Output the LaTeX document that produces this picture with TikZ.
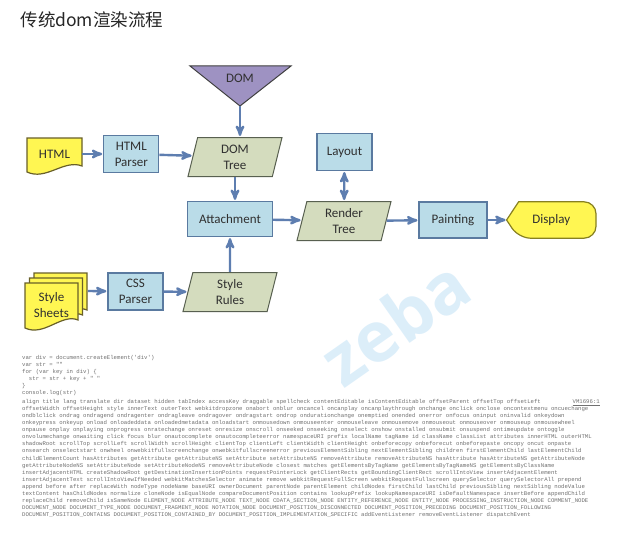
\documentclass[tikz,border=0pt]{standalone}
\usepackage{fontspec}
\setmainfont{Carlito}
\setmonofont{Liberation Mono}
\newfontfamily\cjk{Noto Sans CJK SC}
\newfontfamily\markfont{Open Sans}
\usepackage{tikz}
\usetikzlibrary{positioning}
\usetikzlibrary{arrows,shapes.geometric,backgrounds}

\definecolor{boxblue}{RGB}{186,220,232}
\definecolor{boxedge}{RGB}{90,122,160}
\definecolor{treegreen}{RGB}{212,220,190}
\definecolor{treeedge}{RGB}{88,96,80}
\definecolor{docyellow}{RGB}{255,246,82}
\definecolor{docedge}{RGB}{105,96,40}
\definecolor{domviolet}{RGB}{158,146,194}
\definecolor{flowblue}{RGB}{94,126,176}
\definecolor{labelgray}{RGB}{48,48,48}
\definecolor{codegray}{RGB}{112,112,112}
\definecolor{markblue}{RGB}{140,200,238}

\tikzset{
  process/.style={draw=boxedge, fill=boxblue, line width=1.2pt, minimum width=55pt,
    minimum height=37pt, inner sep=1pt, align=center},
  datatree/.style={trapezium, trapezium left angle=70, trapezium right angle=110,
    trapezium stretches body, draw=treeedge, fill=treegreen, line width=1pt,
    minimum width=94pt, minimum height=39pt, inner sep=1pt, align=center},
  docsheet/.style={draw=docedge, fill=docyellow, line width=1.2pt},
  outputshape/.style={draw=docedge!80!yellow, fill=docyellow, line width=1.2pt},
  flow/.style={draw=flowblue, line width=2.4pt}
}

\begin{document}
\begin{tikzpicture}[->,>=stealth',shorten >=1pt,x=1pt,y=-1pt,
        every node/.style={text=labelgray, font=\fontsize{13}{16}\selectfont}]

  \useasboundingbox (0,0) rectangle (632,535);

  \node[anchor=west, text=black!85, font=\cjk\fontsize{17.5}{20}\selectfont] (title) at (17,20) {传统dom渲染流程};

  % DOM triangle
  \filldraw[draw=black!75, fill=domviolet, line width=1pt] (190,66) -- (291,66) -- (240,106) -- cycle;
  \coordinate (domtip) at (240,106);
  \node (dom) at (240,78) {DOM};

  % html document
  \filldraw[docsheet] (27,138) -- (82,138) -- (82,166) .. controls (64,159) and (46,181) .. (27,172) -- cycle;
  \node[minimum width=55pt] (html) at (54.5,154) {HTML};

  % style sheets
  \foreach \dx/\dy in {9/-10,4.5/-5,0/0}
    \filldraw[docsheet, shift={(\dx,\dy)}] (25,283) -- (78,283) -- (78,320) .. controls (62,313) and (44,337) .. (25,328) -- cycle;
  \node[align=center] (sheets) at (51.5,305) {Style\\Sheets};
  \coordinate (sheetsout) at (88,291);

  \node[process] (htmlparser) [right=21pt of html] {HTML\\Parser};
  \node[datatree] (domtree) at (235,157) {DOM\\Tree};
  \node[process, minimum width=85pt, minimum height=35pt] (attach) at (230,219) {Attachment};
  \node[process] (layout) at (344.5,152) {Layout};
  \node[datatree] (render) at (344,221) {Render\\Tree};
  \node[process, minimum width=68pt, minimum height=36pt] (paint) at (453,220) {Painting};
  \node[minimum width=89pt, minimum height=36pt] (disp) [right=19pt of paint] {Display};
  \node[process] (cssparser) at (135.5,291.5) {CSS\\Parser};
  \node[datatree] (rules) at (230,292) {Style\\Rules};

  \begin{scope}[on background layer]
    \fill[white] (0,0) rectangle (632,535);
    \filldraw[outputshape] (disp.west) -- ([xshift=12pt]disp.north west)
      [rounded corners=12pt] -- (disp.north east) -- (disp.south east)
      -- ([xshift=12pt]disp.south west) [sharp corners] -- cycle;
  \end{scope}

  \draw[flow] (domtip) -- (domtree.north -| domtip);
  \draw[flow] (html) -- (htmlparser);
  \draw[flow] (htmlparser) -- (domtree);
  \draw[flow] (domtree.south) -- (domtree.south |- attach.north);
  \draw[flow] (rules) -- (attach);
  \draw[flow] (attach) -- (render);
  \draw[flow,<->,shorten <=1pt] (render) -- (layout);
  \draw[flow] (render) -- (paint);
  \draw[flow] (paint) -- (disp);
  \draw[flow] (sheetsout) -- (cssparser);
  \draw[flow] (cssparser) -- (rules);

  % watermark
  \node[rotate=35, text=markblue, opacity=0.3, font=\markfont\bfseries\fontsize{70}{70}\selectfont] (mark) at (395,322) {zeba};

  % console output
  \node[anchor=north west, align=left, inner sep=0pt, text=codegray,
        font=\ttfamily\fontsize{5.65}{7.1}\selectfont] (code) at (22,355) {%
var div = document.createElement('div')\\
var str = ""\\
for (var key in div) \{\\
\ \ str = str + key + " "\\
\}\\
console.log(str)\\[1.4pt]
align title lang translate dir dataset hidden tabIndex accessKey draggable spellcheck contentEditable isContentEditable offsetParent offsetTop offsetLeft\\
offsetWidth offsetHeight style innerText outerText webkitdropzone onabort onblur oncancel oncanplay oncanplaythrough onchange onclick onclose oncontextmenu oncuechange\\
ondblclick ondrag ondragend ondragenter ondragleave ondragover ondragstart ondrop ondurationchange onemptied onended onerror onfocus oninput oninvalid onkeydown\\
onkeypress onkeyup onload onloadeddata onloadedmetadata onloadstart onmousedown onmouseenter onmouseleave onmousemove onmouseout onmouseover onmouseup onmousewheel\\
onpause onplay onplaying onprogress onratechange onreset onresize onscroll onseeked onseeking onselect onshow onstalled onsubmit onsuspend ontimeupdate ontoggle\\
onvolumechange onwaiting click focus blur onautocomplete onautocompleteerror namespaceURI prefix localName tagName id className classList attributes innerHTML outerHTML\\
shadowRoot scrollTop scrollLeft scrollWidth scrollHeight clientTop clientLeft clientWidth clientHeight onbeforecopy onbeforecut onbeforepaste oncopy oncut onpaste\\
onsearch onselectstart onwheel onwebkitfullscreenchange onwebkitfullscreenerror previousElementSibling nextElementSibling children firstElementChild lastElementChild\\
childElementCount hasAttributes getAttribute getAttributeNS setAttribute setAttributeNS removeAttribute removeAttributeNS hasAttribute hasAttributeNS getAttributeNode\\
getAttributeNodeNS setAttributeNode setAttributeNodeNS removeAttributeNode closest matches getElementsByTagName getElementsByTagNameNS getElementsByClassName\\
insertAdjacentHTML createShadowRoot getDestinationInsertionPoints requestPointerLock getClientRects getBoundingClientRect scrollIntoView insertAdjacentElement\\
insertAdjacentText scrollIntoViewIfNeeded webkitMatchesSelector animate remove webkitRequestFullScreen webkitRequestFullscreen querySelector querySelectorAll prepend\\
append before after replaceWith nodeType nodeName baseURI ownerDocument parentNode parentElement childNodes firstChild lastChild previousSibling nextSibling nodeValue\\
textContent hasChildNodes normalize cloneNode isEqualNode compareDocumentPosition contains lookupPrefix lookupNamespaceURI isDefaultNamespace insertBefore appendChild\\
replaceChild removeChild isSameNode ELEMENT\_NODE ATTRIBUTE\_NODE TEXT\_NODE CDATA\_SECTION\_NODE ENTITY\_REFERENCE\_NODE ENTITY\_NODE PROCESSING\_INSTRUCTION\_NODE COMMENT\_NODE\\
DOCUMENT\_NODE DOCUMENT\_TYPE\_NODE DOCUMENT\_FRAGMENT\_NODE NOTATION\_NODE DOCUMENT\_POSITION\_DISCONNECTED DOCUMENT\_POSITION\_PRECEDING DOCUMENT\_POSITION\_FOLLOWING\\
DOCUMENT\_POSITION\_CONTAINS DOCUMENT\_POSITION\_CONTAINED\_BY DOCUMENT\_POSITION\_IMPLEMENTATION\_SPECIFIC addEventListener removeEventListener dispatchEvent};
  \node[anchor=base east, inner sep=0pt, text=codegray, font=\ttfamily\fontsize{5.65}{7.1}\selectfont] (vmref) at (600,403.3) {\underline{VM1696:1}};

\end{tikzpicture}
\end{document}
